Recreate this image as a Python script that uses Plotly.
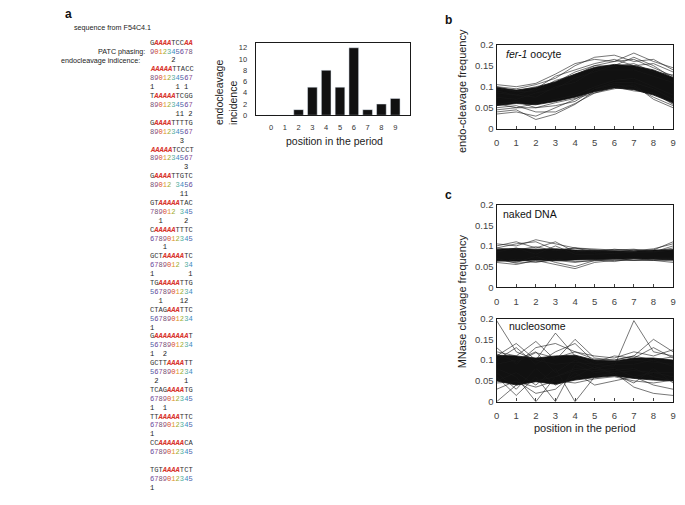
import plotly.graph_objects as go

# ---- panel a: sequence listing ----
words = ["G[AAAA]TCC[AA]", "[AAAAA]TTACC", "T[AAAAA]TCGG", "G[AAAA]TTTTG", "[AAAAA]TCCCT",
         "G[AAAA]TTGTC", "GT[AAAAA]TAC", "C[AAAAA]TTTC", "GCT[AAAAA]TC", "TG[AAAAA]TTG",
         "CTAG[AAA]TTC", "G[AAAAAAAA]T", "GCTT[AAAA]TT", "TCAG[AAAA]TG", "TT[AAAAA]TTC",
         "CC[AAAAAA]CA", "TGT[AAAA]TCT"]
phasing = ["9012345678", "8901234567", "8901234567", "8901234567", "8901234567",
           "89012 3456", "789012 345", "6789012345", "6789012 34", "5678901234",
           "5678901234", "5678901234", "5678901234", "6789012345", "6789012345",
           "6789012345", "6789012345"]
incidence = ["     2", "1     1 1", "      11 2", "       3", "        3",
             "       11", "  1     2", "   1", "1        1", "  1    12",
             "1", "1  2", " 2      1", "1  1", "1", "", "1"]

# ---- panel a: bar chart ----
positions = [0, 1, 2, 3, 4, 5, 6, 7, 8, 9]
endo_incidence = [0, 0, 1, 5, 8, 5, 12, 1, 2, 3]

# ---- panel b: fer-1 oocyte (dense core + visible individual lines) ----
oocyte_lo = [0.055, 0.060, 0.057, 0.065, 0.075, 0.088, 0.097, 0.093, 0.080, 0.062]
oocyte_hi = [0.098, 0.092, 0.098, 0.112, 0.130, 0.146, 0.153, 0.150, 0.140, 0.122]
oocyte_lines = [
    [0.105, 0.100, 0.108, 0.130, 0.155, 0.165, 0.160, 0.180, 0.160, 0.145],
    [0.040, 0.045, 0.022, 0.035, 0.058, 0.090, 0.100, 0.095, 0.085, 0.060],
    [0.035, 0.040, 0.030, 0.050, 0.070, 0.095, 0.105, 0.100, 0.075, 0.055],
    [0.100, 0.095, 0.105, 0.120, 0.150, 0.170, 0.175, 0.160, 0.165, 0.140],
    [0.050, 0.055, 0.040, 0.040, 0.060, 0.085, 0.095, 0.105, 0.070, 0.050],
    [0.090, 0.080, 0.095, 0.125, 0.140, 0.155, 0.165, 0.150, 0.155, 0.135],
    [0.075, 0.070, 0.085, 0.095, 0.120, 0.135, 0.150, 0.170, 0.150, 0.120],
    [0.060, 0.050, 0.060, 0.070, 0.080, 0.100, 0.115, 0.120, 0.100, 0.080],
    [0.085, 0.080, 0.075, 0.100, 0.110, 0.140, 0.140, 0.140, 0.125, 0.110],
    [0.045, 0.050, 0.050, 0.055, 0.065, 0.095, 0.110, 0.110, 0.095, 0.070],
    [0.095, 0.090, 0.100, 0.110, 0.135, 0.150, 0.160, 0.165, 0.145, 0.125],
    [0.100, 0.088, 0.090, 0.115, 0.128, 0.150, 0.148, 0.155, 0.135, 0.128],
    [0.058, 0.065, 0.050, 0.062, 0.072, 0.085, 0.100, 0.090, 0.085, 0.058],
]

# ---- panel c: naked DNA ----
naked_lo = [0.065, 0.063, 0.066, 0.064, 0.066, 0.067, 0.068, 0.069, 0.068, 0.066]
naked_hi = [0.092, 0.094, 0.092, 0.093, 0.090, 0.089, 0.088, 0.087, 0.090, 0.091]
naked_lines = [
    [0.105, 0.100, 0.115, 0.105, 0.095, 0.090, 0.090, 0.090, 0.090, 0.110],
    [0.060, 0.055, 0.065, 0.055, 0.045, 0.060, 0.065, 0.065, 0.070, 0.070],
    [0.100, 0.110, 0.095, 0.110, 0.085, 0.090, 0.085, 0.090, 0.085, 0.100],
    [0.065, 0.060, 0.075, 0.060, 0.050, 0.065, 0.070, 0.065, 0.065, 0.060],
    [0.095, 0.105, 0.110, 0.090, 0.095, 0.085, 0.092, 0.088, 0.093, 0.105],
    [0.070, 0.058, 0.062, 0.065, 0.060, 0.066, 0.062, 0.070, 0.066, 0.064],
    [0.085, 0.095, 0.080, 0.100, 0.080, 0.080, 0.082, 0.085, 0.085, 0.090],
    [0.095, 0.090, 0.098, 0.088, 0.095, 0.092, 0.090, 0.092, 0.086, 0.095],
    [0.062, 0.068, 0.060, 0.068, 0.062, 0.064, 0.066, 0.066, 0.065, 0.068],
]

# ---- panel c: nucleosome ----
nucl_lo = [0.050, 0.040, 0.048, 0.042, 0.052, 0.058, 0.062, 0.056, 0.052, 0.050]
nucl_hi = [0.112, 0.110, 0.105, 0.110, 0.112, 0.100, 0.098, 0.105, 0.105, 0.100]
nucl_lines = [
    [0.195, 0.120, 0.100, 0.090, 0.095, 0.090, 0.095, 0.100, 0.095, 0.090],
    [0.000, 0.040, 0.050, 0.060, 0.075, 0.080, 0.070, 0.075, 0.070, 0.060],
    [0.110, 0.140, 0.100, 0.165, 0.110, 0.090, 0.085, 0.195, 0.120, 0.110],
    [0.080, 0.060, 0.000, 0.060, 0.080, 0.075, 0.080, 0.060, 0.070, 0.070],
    [0.060, 0.015, 0.060, 0.000, 0.090, 0.070, 0.075, 0.080, 0.060, 0.050],
    [0.120, 0.110, 0.145, 0.100, 0.150, 0.105, 0.100, 0.110, 0.150, 0.120],
    [0.050, 0.070, 0.040, 0.080, 0.000, 0.060, 0.070, 0.035, 0.020, 0.015],
    [0.130, 0.090, 0.130, 0.140, 0.120, 0.110, 0.105, 0.120, 0.110, 0.125],
    [0.030, 0.050, 0.020, 0.030, 0.070, 0.040, 0.050, 0.060, 0.040, 0.030],
    [0.100, 0.130, 0.090, 0.120, 0.140, 0.095, 0.110, 0.105, 0.130, 0.105],
    [0.070, 0.030, 0.080, 0.040, 0.060, 0.085, 0.065, 0.045, 0.080, 0.045],
    [0.090, 0.100, 0.120, 0.070, 0.100, 0.080, 0.090, 0.090, 0.100, 0.085],
    [0.115, 0.095, 0.118, 0.105, 0.120, 0.102, 0.100, 0.110, 0.100, 0.108],
    [0.045, 0.048, 0.035, 0.050, 0.045, 0.055, 0.060, 0.050, 0.045, 0.052],
]

W, H = 685, 505
SANS = "Liberation Sans, Arial, sans-serif"
MONO = "Liberation Mono, Courier New, monospace"
digit_colors = {'0': '#d8452b', '1': '#e0942a', '2': '#9fae2c', '3': '#4fae9c', '4': '#3b8cc2',
                '5': '#4b5ea6', '6': '#6a4a9c', '7': '#8d4f96', '8': '#745273', '9': '#96527f'}

fig = go.Figure()

# bar chart
fig.add_trace(go.Bar(x=positions, y=endo_incidence, marker_color='#111111', width=0.7,
                     xaxis='x', yaxis='y'))


def add_spaghetti(lo, hi, lines, xa, ya):
    fig.add_trace(go.Scatter(x=positions + positions[::-1], y=lo + hi[::-1], fill='toself',
                             fillcolor='#111111', line=dict(color='#111111', width=0.8),
                             mode='lines', xaxis=xa, yaxis=ya))
    for ln in lines:
        fig.add_trace(go.Scatter(x=positions, y=ln, mode='lines',
                                 line=dict(color='rgba(25,25,25,0.85)', width=0.7),
                                 xaxis=xa, yaxis=ya))


add_spaghetti(oocyte_lo, oocyte_hi, oocyte_lines, 'x2', 'y2')
add_spaghetti(naked_lo, naked_hi, naked_lines, 'x3', 'y3')
add_spaghetti(nucl_lo, nucl_hi, nucl_lines, 'x4', 'y4')


def px(x):
    return x / W


def py(y):
    return 1 - y / H


freq_ticks = dict(tickvals=[0, 0.05, 0.1, 0.15, 0.2], ticktext=['0', '0.05', '0.1', '0.15', '0.2'])
box = dict(showline=True, mirror=True, linecolor='#1a1a1a', linewidth=1.4, showgrid=False,
           zeroline=False, tickfont=dict(size=9.5, color='#444', family=SANS))

fig.update_layout(
    width=W, height=H, margin=dict(l=0, r=0, t=0, b=0),
    paper_bgcolor='white', plot_bgcolor='white', showlegend=False,
    font=dict(family=SANS, color='#222'),
    xaxis=dict(domain=[px(255), px(411)], range=[-1.1, 10.1], tickvals=positions, anchor='y',
               showline=True, mirror=True, linecolor='#1a1a1a', linewidth=1.2, showgrid=False,
               zeroline=False, ticks='', ticklabelstandoff=5,
               tickfont=dict(size=7.5, color='#333', family=SANS)),
    yaxis=dict(domain=[py(111.7), py(37.5)], range=[0, 12.9], tickvals=[0, 2, 4, 6, 8, 10, 12],
               anchor='x', showline=True, mirror=True, linecolor='#1a1a1a', linewidth=1.2,
               showgrid=False, zeroline=False, ticks='', ticklabelstandoff=6,
               tickfont=dict(size=7.5, color='#333', family=SANS)),
    xaxis2=dict(domain=[px(498), px(676)], range=[0, 9], tickvals=positions, anchor='y2',
                ticks='inside', ticklen=3, ticklabelstandoff=5, **box),
    yaxis2=dict(domain=[py(125.5), py(39.5)], range=[0, 0.2], anchor='x2', ticks='',
                **freq_ticks, **box),
    xaxis3=dict(domain=[px(498), px(676)], range=[0, 9], tickvals=positions, anchor='y3',
                ticks='inside', ticklen=3, ticklabelstandoff=5, **box),
    yaxis3=dict(domain=[py(287.5), py(203)], range=[0, 0.2], anchor='x3', ticks='',
                **freq_ticks, **box),
    xaxis4=dict(domain=[px(498), px(676)], range=[0, 9], tickvals=positions, anchor='y4',
                ticks='inside', ticklen=3, ticklabelstandoff=5, **box),
    yaxis4=dict(domain=[py(404.5), py(319.5)], range=[0, 0.2], anchor='x4', ticks='',
                **freq_ticks, **box),
)

ann = []


def note(text, x, y, size, xanchor='left', family=SANS, **kw):
    ann.append(dict(text=text, x=px(x), y=py(y), xref='paper', yref='paper', showarrow=False,
                    xanchor=xanchor, yanchor='middle', font=dict(size=size, family=family,
                                                                 color=kw.pop('color', '#222')),
                    **kw))


# panel letters
note('<b>a</b>', 61, 8, 12, color='#111')
note('<b>b</b>', 444, 14, 12, color='#111')
note('<b>c</b>', 444, 193, 12, color='#111')

note('sequence from F54C4.1', 70, 22, 7.2)
note('PATC phasing:', 145.5, 46.5, 7.2, xanchor='right')
note('endocleavage indicence:', 56, 56, 7.2)


def fmt_word(w):
    out, red = '', False
    for ch in w:
        if ch == '[':
            red = True
        elif ch == ']':
            red = False
        elif red:
            out += '<span style="color:#d8332b"><b><i>' + ch + '</i></b></span>'
        else:
            out += '<span style="color:#333">' + ch + '</span>'
    return out


def fmt_digits(d):
    return ''.join('\u00a0' if c == ' ' else
                   '<span style="color:%s">%s</span>' % (digit_colors[c], c) for c in d)


x0, y0, step = 146, 37.5, 9.1
for i, (w, d, inc) in enumerate(zip(words, phasing, incidence)):
    note(fmt_word(w), x0, y0 + (3 * i) * step, 7.1, family=MONO)
    note(fmt_digits(d), x0, y0 + (3 * i + 1) * step, 7.1, family=MONO)
    if inc:
        note(inc.replace(' ', '\u00a0'), x0, y0 + (3 * i + 2) * step, 7.1, family=MONO,
             color='#222')

# bar chart titles
note('endocleavage<br>incidence', 225, 88, 10.5, xanchor='center', textangle=-90, align='left')
note('position in the period', 334, 138, 10.5, xanchor='center')

# right panel titles and inset labels
note('endo-cleavage frequency', 463, 87, 11, xanchor='center', textangle=-90)
note('MNase cleavage frequency', 463, 302, 11, xanchor='center', textangle=-90)
note('position in the period', 587, 431, 11, xanchor='center')
note('<i>fer-1</i> oocyte', 505, 49.5, 10.5, color='#111')
note('naked DNA', 502, 213, 10.5, color='#111')
note('nucleosome', 508, 327, 10.5, color='#111')

fig.update_layout(annotations=ann)

# page margin off so the figure sits at the window origin
fig.write_html("out.html", config={'displayModeBar': False},
               post_script="document.body.style.margin='0px';")
